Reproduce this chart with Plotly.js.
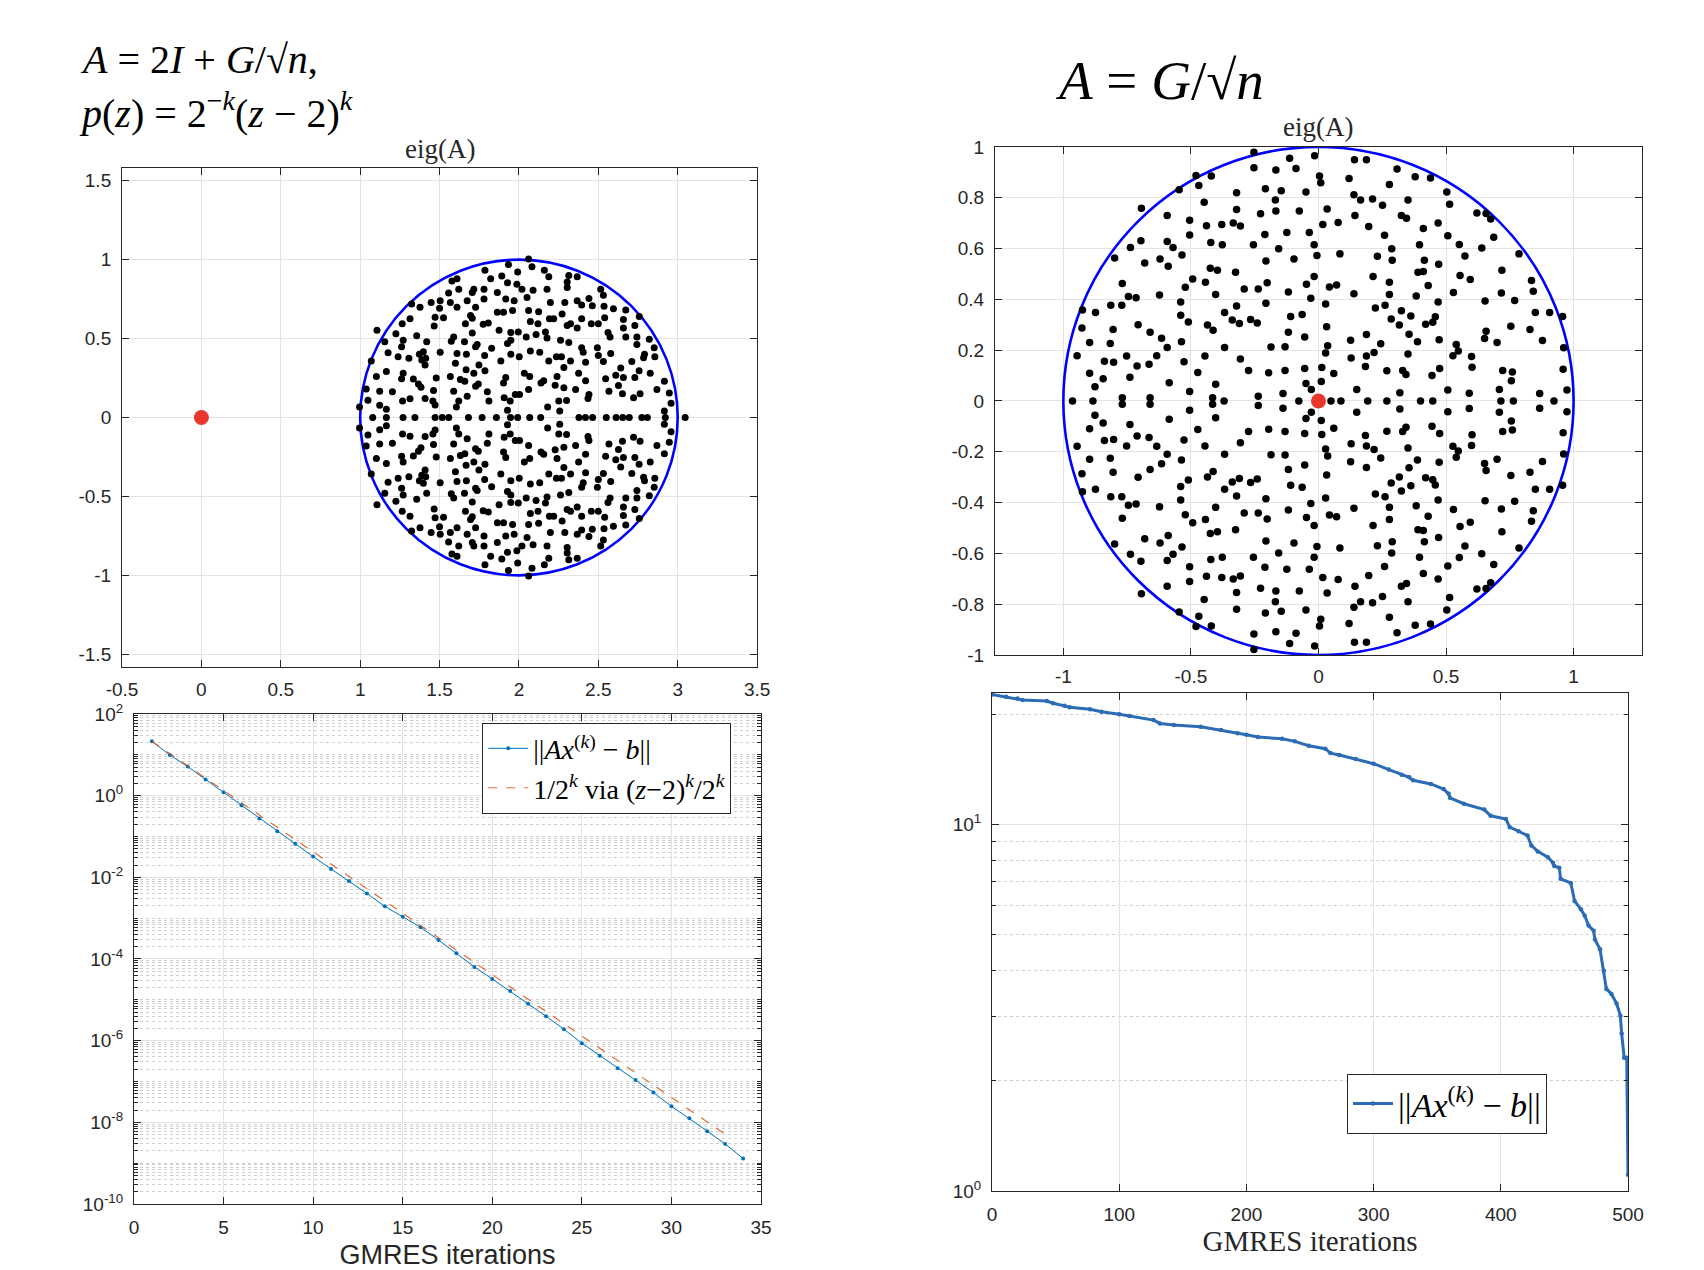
<!DOCTYPE html>
<html>
<head>
<meta charset="utf-8">
<script src="https://cdn.plot.ly/plotly-3.0.1.min.js"></script>
<style>html,body{margin:0;padding:0;background:#fff;}#chart{width:1704px;height:1270px;}</style>
</head>
<body>
<div id="chart"></div>
<script>
// ---------- Left disk: eig(2I + G/sqrt(n)) — upper half-plane eigenvalues (conjugates mirror them) ----------
const leftUpperRe = [1.786,1.934,1.992,1.822,1.892,1.610,1.578,1.928,1.987,1.621,1.716,1.780,1.706,1.864,1.557,1.504,1.447,1.324,1.377,1.568,1.674,1.780,1.917,1.970,1.610,1.500,1.727,1.864,1.903,1.960,1.314,1.472,1.525,1.695,1.706,1.265,1.466,1.663,1.775,1.807,1.875,1.949,1.996,1.106,1.225,1.356,1.589,1.574,1.657,1.706,1.949,1.155,1.271,1.261,1.419,1.727,1.737,1.828,1.928,1.176,1.239,1.373,1.398,1.413,1.504,1.307,1.388,1.610,1.669,1.949,2.002,1.070,1.409,1.600,1.748,1.784,1.886,1.165,1.271,1.102,1.261,1.335,1.479,1.568,1.667,1.716,1.786,1.917,1.631,1.659,1.367,1.383,1.727,1.744,1.038,1.123,1.203,1.462,1.589,1.801,1.903,1.977,1.907,1.049,1.314,1.267,1.409,1.458,1.472,1.621,1.674,1.811,1.945,1.123,1.165,1.606,1.928,0.996,
2.061,2.082,2.160,2.188,2.314,2.367,2.304,2.304,2.019,2.089,2.177,2.515,2.532,2.051,2.198,2.289,2.367,2.395,2.441,2.462,2.536,2.595,2.673,2.061,2.124,2.272,2.395,2.192,2.219,2.540,2.658,2.758,2.072,2.120,2.304,2.325,2.367,2.456,2.500,2.658,2.730,2.108,2.167,2.177,2.046,2.262,2.314,2.561,2.574,2.673,2.743,2.821,2.743,2.852,2.072,2.131,2.395,2.405,2.494,2.578,2.188,2.236,2.268,2.325,2.420,2.500,2.532,2.711,2.791,2.785,2.856,2.283,2.376,2.641,2.757,2.034,2.068,2.240,2.420,2.546,2.610,2.658,2.730,2.827,2.916,2.139,2.156,2.228,2.283,2.357,2.441,2.567,2.627,2.652,2.722,2.763,2.869,2.947,2.061,2.004,2.958,2.251,2.300,2.435,2.181,2.257,2.916];
const leftUpperIm = [0.933,0.969,0.921,0.879,0.896,0.879,0.865,0.854,0.844,0.813,0.813,0.813,0.792,0.792,0.788,0.740,0.729,0.719,0.698,0.729,0.740,0.750,0.750,0.740,0.698,0.692,0.698,0.667,0.667,0.677,0.625,0.635,0.631,0.646,0.629,0.594,0.579,0.594,0.590,0.598,0.552,0.538,0.542,0.552,0.531,0.517,0.510,0.483,0.479,0.535,0.490,0.479,0.490,0.448,0.479,0.448,0.463,0.438,0.469,0.410,0.385,0.400,0.417,0.375,0.413,0.375,0.365,0.406,0.400,0.400,0.385,0.358,0.333,0.344,0.333,0.392,0.358,0.292,0.281,0.260,0.246,0.244,0.250,0.260,0.302,0.281,0.296,0.254,0.240,0.229,0.213,0.192,0.198,0.213,0.181,0.167,0.163,0.171,0.167,0.163,0.219,0.146,0.125,0.110,0.119,0.104,0.121,0.104,0.079,0.104,0.135,0.104,0.104,0.077,0.052,0.067,0.046,0.067,
1.004,0.954,0.933,0.892,0.900,0.892,0.858,0.823,0.813,0.806,0.813,0.813,0.775,0.760,0.729,0.729,0.740,0.713,0.754,0.708,0.704,0.688,0.681,0.677,0.669,0.656,0.625,0.625,0.625,0.631,0.621,0.640,0.608,0.594,0.583,0.594,0.567,0.594,0.594,0.567,0.583,0.525,0.542,0.504,0.510,0.490,0.475,0.538,0.510,0.510,0.510,0.496,0.463,0.442,0.421,0.413,0.442,0.413,0.442,0.406,0.358,0.385,0.385,0.358,0.350,0.392,0.354,0.354,0.400,0.379,0.385,0.317,0.281,0.313,0.296,0.281,0.260,0.260,0.233,0.246,0.267,0.254,0.254,0.281,0.229,0.219,0.233,0.204,0.188,0.177,0.146,0.167,0.202,0.150,0.125,0.150,0.177,0.156,0.177,0.146,0.090,0.104,0.108,0.121,0.067,0.042,0.042];
const leftRealRe = [1.079,1.165,1.270,1.345,1.472,1.517,1.558,1.682,1.768,1.858,1.947,1.992,2.068,2.137,2.378,2.419,2.464,2.550,2.612,2.654,2.695,2.774,2.809,2.922,3.047];

// ---------- Right disk: eig(G/sqrt(n)) — upper half-plane eigenvalues ----------
const rightUpperRe = [-0.253,-0.113,-0.015,0.141,0.188,-0.253,-0.167,-0.088,0.004,0.009,0.120,0.308,0.379,0.439,-0.480,-0.420,-0.469,-0.546,-0.321,-0.208,-0.146,-0.049,0.139,0.165,0.212,0.251,0.278,0.351,0.503,0.514,0.621,0.657,0.675,-0.448,-0.169,-0.227,-0.321,-0.167,-0.075,-0.334,-0.306,-0.694,-0.593,0.325,0.345,0.034,0.017,0.143,-0.505,0.197,0.077,0.259,0.287,0.469,0.411,0.687,0.507,0.552,0.640,0.786,-0.505,-0.439,-0.379,-0.422,-0.377,-0.210,-0.124,-0.036,-0.017,-0.006,-0.255,-0.156,-0.696,-0.737,-0.593,-0.570,-0.535,0.396,0.574,-0.681,-0.799,-0.621,-0.589,-0.096,-0.206,0.084,0.231,0.289,0.415,0.471,-0.424,-0.396,-0.325,-0.493,-0.443,-0.769,-0.745,-0.715,0.719,0.390,0.411,0.214,0.278,0.555,0.595,0.835,0.842,-0.017,-0.047,0.043,0.071,-0.291,-0.236,-0.201,0.430,0.529,0.653,-0.118,-0.522,-0.623,-0.403,-0.206,-0.321,-0.266,-0.310,0.261,0.383,0.139,0.325,0.362,0.448,0.469,0.223,0.278,0.285,0.028,-0.030,-0.771,-0.814,-0.874,-0.925,0.717,0.769,0.850,0.957,0.906,-0.540,-0.540,-0.510,-0.368,-0.338,-0.240,-0.109,-0.064,0.420,0.458,-0.707,-0.660,-0.805,-0.927,-0.897,-0.816,-0.615,-0.537,-0.593,-0.413,-0.435,-0.118,-0.131,-0.054,0.032,0.036,0.126,0.244,0.188,0.317,0.355,0.388,0.473,0.540,0.651,0.657,0.700,0.754,0.829,0.878,0.961,-0.186,-0.368,-0.527,0.351,-0.946,-0.752,-0.803,-0.839,-0.897,-0.844,-0.711,-0.664,-0.634,-0.473,-0.445,-0.306,-0.274,-0.195,-0.131,-0.054,0.013,0.028,0.060,0.128,0.184,0.188,0.218,0.268,0.330,0.343,0.445,0.475,0.527,0.548,0.600,0.602,0.722,0.760,0.756,0.959,-0.876,-0.739,-0.585,-0.505,-0.403,-0.236,-0.139,-0.049,-0.028,0.011,0.150,0.319,0.507,0.591,0.709,0.867,0.974,-0.769,-0.660,-0.415];
const rightUpperIm = [0.979,0.955,0.965,0.950,0.950,0.918,0.909,0.915,0.886,0.859,0.876,0.913,0.883,0.878,0.888,0.886,0.848,0.831,0.820,0.835,0.828,0.823,0.812,0.791,0.795,0.770,0.852,0.791,0.823,0.774,0.740,0.738,0.716,0.782,0.791,0.737,0.754,0.748,0.748,0.701,0.689,0.759,0.730,0.730,0.719,0.756,0.695,0.730,0.711,0.687,0.703,0.652,0.599,0.701,0.679,0.644,0.650,0.616,0.602,0.579,0.653,0.690,0.695,0.624,0.615,0.655,0.663,0.663,0.615,0.573,0.615,0.599,0.631,0.604,0.628,0.604,0.575,0.615,0.571,0.543,0.563,0.559,0.530,0.559,0.551,0.579,0.570,0.554,0.554,0.538,0.522,0.515,0.507,0.480,0.467,0.462,0.411,0.406,0.515,0.507,0.510,0.490,0.467,0.494,0.478,0.474,0.432,0.490,0.459,0.449,0.456,0.441,0.441,0.465,0.454,0.427,0.393,0.429,0.448,0.417,0.419,0.385,0.374,0.321,0.305,0.377,0.413,0.422,0.355,0.334,0.310,0.390,0.366,0.419,0.323,0.382,0.404,0.377,0.377,0.348,0.358,0.425,0.395,0.348,0.332,0.348,0.390,0.337,0.311,0.348,0.319,0.307,0.332,0.340,0.302,0.331,0.300,0.270,0.281,0.287,0.230,0.226,0.247,0.233,0.210,0.278,0.299,0.270,0.213,0.252,0.292,0.217,0.239,0.225,0.262,0.299,0.263,0.233,0.241,0.222,0.246,0.274,0.230,0.294,0.281,0.238,0.209,0.212,0.210,0.154,0.185,0.178,0.177,0.152,0.156,0.109,0.087,0.138,0.144,0.178,0.112,0.177,0.165,0.120,0.111,0.120,0.128,0.132,0.189,0.108,0.169,0.136,0.177,0.191,0.119,0.120,0.104,0.100,0.128,0.178,0.197,0.175,0.133,0.120,0.114,0.079,0.125,0.056,0.093,0.072,0.037,0.066,0.018,0.029,0.069,0.045,0.077,0.045,0.032,0.043,0.030,0.045,0.029,0.043,0.013,0.013,0.013];
const rightRealRe = [-0.964,-0.884,-0.370,-0.077,0.049,0.088,0.193,0.268,0.400,0.448,0.715,0.764,0.923];

// circles bounding the spectra, and the red marked point z = 0
const leftCircle = {cx: 2, cy: 0, r: 1};
const rightCircle = {cx: 0, cy: 0, r: 1};
const markX = [0];
const markY = [0];

// ---------- GMRES residuals ----------
const itLeft = [1,2,3,4,5,6,7,8,9,10,11,12,13,14,15,16,17,18,19,20,21,22,23,24,25,26,27,28,29,30,31,32,33,34];
const resLeft = [21.4,9.93,5.15,2.49,1.21,0.586,0.277,0.135,0.0667,0.0323,0.0160,8.13e-3,4.03e-3,1.95e-3,1.08e-3,6.01e-4,2.91e-4,1.38e-4,6.38e-5,3.24e-5,1.64e-5,7.96e-6,3.94e-6,1.91e-6,8.65e-7,4.29e-7,2.12e-7,1.08e-7,5.33e-8,2.47e-8,1.25e-8,6.07e-9,2.94e-9,1.30e-9];
const itBound = [1,10,20,33];
const resBound = [21.4,0.0419,4.1e-5,5.1e-9];

const itRight = [0,11,20,24,43,48,57,61,77,86,100,108,127,132,143,164,180,193,200,209,228,238,249,262,266,273,286,300,312,322,328,331,345,355,359,360,371,387,392,404,407,414,421,424,429,437,441,442,446,447,455,458,463,466,469,473,474,478,481,483,487,491,494,495,497,499,500];
const resRight = [22.65,22.34,22.08,21.88,21.73,21.43,21.09,20.89,20.65,20.32,20.0,19.77,19.28,18.88,18.71,18.49,18.11,17.74,17.58,17.34,17.14,16.87,16.41,16.11,15.67,15.49,15.10,14.66,14.13,13.68,13.46,13.21,12.91,12.50,12.13,11.83,11.40,10.99,10.57,10.35,9.84,9.59,9.33,8.77,8.45,8.15,7.87,7.71,7.62,7.11,6.93,6.19,5.87,5.64,5.30,5.13,4.86,4.57,3.99,3.56,3.45,3.25,3.01,2.69,2.31,2.31,1.107];

// ---------- tick labels ----------
const leftXTicks = [-0.5,0,0.5,1,1.5,2,2.5,3,3.5];
const leftXText = ['-0.5','0','0.5','1','1.5','2','2.5','3','3.5'];
const leftYTicks = [-1.5,-1,-0.5,0,0.5,1,1.5];
const leftYText = ['-1.5','-1','-0.5','0','0.5','1','1.5'];
const rightXTicks = [-1,-0.5,0,0.5,1];
const rightXText = ['-1','-0.5','0','0.5','1'];
const rightYTicks = [-1,-0.8,-0.6,-0.4,-0.2,0,0.2,0.4,0.6,0.8,1];
const rightYText = ['-1','-0.8','-0.6','-0.4','-0.2','0','0.2','0.4','0.6','0.8','1'];
const logLeftTicks = [1e-10,1e-8,1e-6,1e-4,1e-2,1,1e2];
const logLeftText = ['10<sup>-10</sup>','10<sup>-8</sup>','10<sup>-6</sup>','10<sup>-4</sup>','10<sup>-2</sup>','10<sup>0</sup>','10<sup>2</sup>'];
const logRightTicks = [1,10];
const logRightText = ['10<sup>0</sup>','10<sup>1</sup>'];
const itLeftTicks = [0,5,10,15,20,25,30,35];
const itRightTicks = [0,100,200,300,400,500];

// ---------- build ----------
const leftX = leftUpperRe.concat(leftUpperRe, leftRealRe);
const leftY = leftUpperIm.concat(leftUpperIm.map(v => -v), leftRealRe.map(() => 0));
const rightX = rightUpperRe.concat(rightUpperRe, rightRealRe);
const rightY = rightUpperIm.concat(rightUpperIm.map(v => -v), rightRealRe.map(() => 0));

const SANS = 'Liberation Sans, Arial, Helvetica, sans-serif';
const SERIF = 'Liberation Serif, Times New Roman, serif';
const INK = '#262626';

function ax(extra) {
  return Object.assign({
    showline: true, linecolor: INK, linewidth: 1, mirror: 'ticks',
    ticks: 'inside', ticklen: 7, tickcolor: INK, tickwidth: 1,
    showgrid: true, gridcolor: '#e3e3e3', gridwidth: 1, zeroline: false,
    tickfont: {family: SANS, size: 19, color: INK},
    ticklabelstandoff: 6, fixedrange: true
  }, extra);
}

const traces = [
  {x: leftX, y: leftY, xaxis: 'x', yaxis: 'y', type: 'scatter', mode: 'markers',
   marker: {color: '#000', size: 7}, showlegend: false, hoverinfo: 'skip'},
  {x: markX, y: markY, xaxis: 'x', yaxis: 'y', type: 'scatter', mode: 'markers',
   marker: {color: '#e8372b', size: 15}, showlegend: false, hoverinfo: 'skip'},
  {x: itLeft, y: resLeft, xaxis: 'x2', yaxis: 'y2', type: 'scatter', mode: 'lines+markers',
   line: {color: '#0072BD', width: 1}, marker: {color: '#0072BD', size: 4},
   name: '||<i>Ax</i><sup>(<i>k</i>)</sup> − <i>b</i>||', legend: 'legend'},
  {x: itBound, y: resBound, xaxis: 'x2', yaxis: 'y2', type: 'scatter', mode: 'lines',
   line: {color: '#D95319', width: 1.2, dash: 'dash'}, opacity: 0.85,
   name: '1/2<sup><i>k</i></sup> via (<i>z</i>−2)<sup><i>k</i></sup>/2<sup><i>k</i></sup>', legend: 'legend'},
  {x: rightX, y: rightY, xaxis: 'x3', yaxis: 'y3', type: 'scatter', mode: 'markers',
   marker: {color: '#000', size: 7.5}, showlegend: false, hoverinfo: 'skip'},
  {x: markX, y: markY, xaxis: 'x3', yaxis: 'y3', type: 'scatter', mode: 'markers',
   marker: {color: '#e8372b', size: 15}, showlegend: false, hoverinfo: 'skip'},
  {x: itRight, y: resRight, xaxis: 'x4', yaxis: 'y4', type: 'scatter', mode: 'lines+markers',
   line: {color: '#2b6cb5', width: 3}, marker: {color: '#2b6cb5', size: 4.5},
   name: '||<i>Ax</i><sup>(<i>k</i>)</sup> − <i>b</i>||', legend: 'legend2'}
];

function circleShape(c, xr, yr) {
  return {type: 'circle', xref: xr, yref: yr, x0: c.cx - c.r, x1: c.cx + c.r, y0: c.cy - c.r, y1: c.cy + c.r,
          line: {color: '#0000ff', width: 2.6}, layer: 'between'};
}

const minorLog = {dtick: 'D1', showgrid: true, griddash: 'dot', gridcolor: '#cfcfcf', gridwidth: 1,
                  ticks: 'inside', ticklen: 4, tickcolor: INK};

const layout = {
  width: 1704, height: 1270,
  margin: {l: 0, r: 0, t: 0, b: 0},
  paper_bgcolor: '#fff', plot_bgcolor: '#fff',
  showlegend: true,
  xaxis: ax({domain: [0.0716, 0.4443], anchor: 'y', range: [-0.5, 3.5], tickmode: 'array', tickvals: leftXTicks, ticktext: leftXText, ticklabelstandoff: 5}),
  yaxis: ax({domain: [0.4748, 0.8677], anchor: 'x', range: [-1.58, 1.58], tickmode: 'array', tickvals: leftYTicks, ticktext: leftYText}),
  xaxis2: ax({domain: [0.0786, 0.4466], anchor: 'y2', range: [0, 35], tickmode: 'array', tickvals: itLeftTicks,
              title: {text: 'GMRES iterations', font: {family: SANS, size: 27, color: INK}, standoff: 8}}),
  yaxis2: ax({domain: [0.0520, 0.4378], anchor: 'x2', type: 'log', range: [-10, 2], tickmode: 'array',
              tickvals: logLeftTicks, ticktext: logLeftText, minor: minorLog}),
  xaxis3: ax({domain: [0.5839, 0.9636], anchor: 'y3', range: [-1.268, 1.268], tickmode: 'array', tickvals: rightXTicks, ticktext: rightXText, ticklabelstandoff: 4}),
  yaxis3: ax({domain: [0.4843, 0.8843], anchor: 'x3', range: [-1, 1], tickmode: 'array', tickvals: rightYTicks, ticktext: rightYText}),
  xaxis4: ax({domain: [0.5822, 0.9554], anchor: 'y4', range: [0, 500], tickmode: 'array', tickvals: itRightTicks,
              title: {text: 'GMRES iterations', font: {family: SERIF, size: 29, color: INK}, standoff: 4}}),
  yaxis4: ax({domain: [0.0622, 0.4543], anchor: 'x4', type: 'log', range: [0, 1.359], tickmode: 'array',
              tickvals: logRightTicks, ticktext: logRightText, minor: minorLog}),
  shapes: [circleShape(leftCircle, 'x', 'y'), circleShape(rightCircle, 'x3', 'y3')],
  legend: {x: 0.283, y: 0.431, xanchor: 'left', yanchor: 'top', bgcolor: '#fff', bordercolor: INK, borderwidth: 1,
           font: {family: SERIF, size: 28, color: '#000'}, traceorder: 'normal', itemwidth: 40},
  legend2: {x: 0.7905, y: 0.1545, xanchor: 'left', yanchor: 'top', bgcolor: '#fff', bordercolor: INK, borderwidth: 1,
            font: {family: SERIF, size: 34, color: '#000'}, itemwidth: 40},
  annotations: [
    {xref: 'paper', yref: 'paper', x: 0.046, y: 0.953, xanchor: 'left', yanchor: 'middle', showarrow: false,
     text: '<i>A</i> = 2<i>I</i> + <i>G</i>/√<i>n</i>,', font: {family: SERIF, size: 40, color: '#000'}},
    {xref: 'paper', yref: 'paper', x: 0.045, y: 0.913, xanchor: 'left', yanchor: 'middle', showarrow: false,
     text: '<i>p</i>(<i>z</i>) = 2<sup>−<i>k</i></sup>(<i>z</i> − 2)<sup><i>k</i></sup>', font: {family: SERIF, size: 40, color: '#000'}},
    {xref: 'paper', yref: 'paper', x: 0.618, y: 0.937, xanchor: 'left', yanchor: 'middle', showarrow: false,
     text: '<i>A</i> = <i>G</i>/√<i>n</i>', font: {family: SERIF, size: 55, color: '#000'}},
    {xref: 'paper', yref: 'paper', x: 0.258, y: 0.8827, xanchor: 'center', yanchor: 'middle', showarrow: false,
     text: 'eig(A)', font: {family: SERIF, size: 27, color: INK}},
    {xref: 'paper', yref: 'paper', x: 0.7735, y: 0.900, xanchor: 'center', yanchor: 'middle', showarrow: false,
     text: 'eig(A)', font: {family: SERIF, size: 27, color: INK}}
  ]
};

Plotly.newPlot('chart', traces, layout, {displayModeBar: false, staticPlot: true});
</script>
</body>
</html>
